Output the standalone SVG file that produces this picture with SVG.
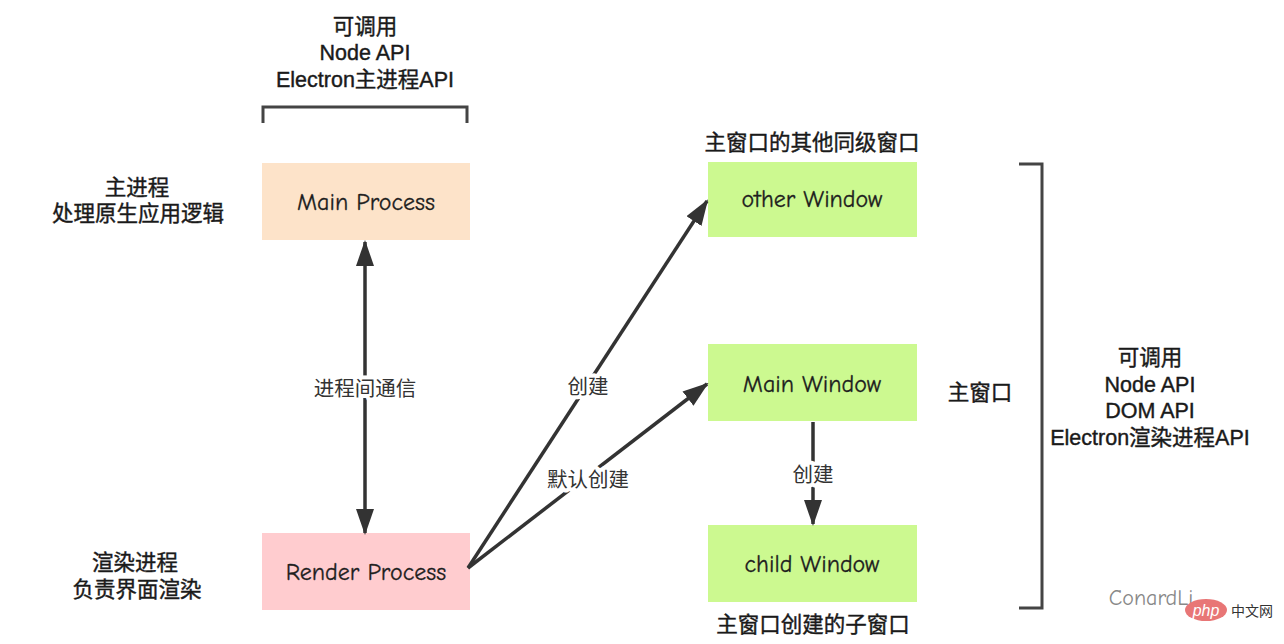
<svg xmlns="http://www.w3.org/2000/svg" width="1284" height="644" viewBox="0 0 1284 644">
<style>
  .cn { font-family: "Liberation Sans", "Noto Sans CJK SC", sans-serif; font-size: 21.5px; fill: #1a1a1a; stroke: #1a1a1a; stroke-width: 0.4px; text-anchor: middle; dominant-baseline: central; }
  .box { font-family: "Comic Neue", "Comic Sans MS", "Liberation Sans", sans-serif; font-size: 24px; fill: #1e1e1e; stroke: #1e1e1e; stroke-width: 0.3px; text-anchor: middle; dominant-baseline: central; }
  .lbl { font-family: "Liberation Sans", "Noto Sans CJK SC", sans-serif; font-size: 20.5px; fill: #333; text-anchor: middle; dominant-baseline: central; paint-order: stroke; stroke: #fff; stroke-width: 8px; stroke-linejoin: round; }
  .edge { stroke: #333; stroke-width: 3.5; fill: none; }
  .brk { stroke: #444; stroke-width: 3; fill: none; }
</style>
<defs>
  <marker id="ah" markerUnits="userSpaceOnUse" markerWidth="26" markerHeight="18" refX="24" refY="9" orient="auto-start-reverse" viewBox="0 0 26 18">
    <path d="M0,0 L26,9 L0,18 z" fill="#333"/>
  </marker>
</defs>
<rect width="1284" height="644" fill="#fff"/>

<g id="main-process">
  <rect x="262" y="163" width="208" height="77" fill="#fde3c9"/>
  <text class="box" x="366" y="202">Main Process</text>
</g>
<g id="render-process">
  <rect x="262" y="533" width="208" height="77" fill="#ffcccf"/>
  <text class="box" x="366" y="572">Render Process</text>
</g>
<g id="other-window">
  <rect x="708" y="162" width="209" height="75" fill="#ccf990"/>
  <text class="box" x="812" y="199">other Window</text>
</g>
<g id="main-window">
  <rect x="708" y="344" width="209" height="77" fill="#ccf990"/>
  <text class="box" x="812" y="384">Main Window</text>
</g>
<g id="child-window">
  <rect x="708" y="525" width="209" height="77" fill="#ccf990"/>
  <text class="box" x="812" y="564">child Window</text>
</g>

<g id="connectors">
  <line class="edge" x1="365" y1="242" x2="365" y2="533" marker-start="url(#ah)" marker-end="url(#ah)"/>
  <text class="lbl" x="365" y="388">进程间通信</text>
  <line class="edge" x1="468" y1="568" x2="707" y2="201" marker-end="url(#ah)"/>
  <text class="lbl" x="588" y="386">创建</text>
  <line class="edge" x1="468" y1="568" x2="707" y2="384" marker-end="url(#ah)"/>
  <text class="lbl" x="588" y="479">默认创建</text>
  <line class="edge" x1="813" y1="422" x2="813" y2="524" marker-end="url(#ah)"/>
  <text class="lbl" x="813" y="474">创建</text>
</g>

<g id="top-annotation">
  <text class="cn" x="365" y="27">可调用</text>
  <text class="cn" x="365" y="53">Node API</text>
  <text class="cn" x="365" y="80">Electron主进程API</text>
  <path class="brk" d="M263,123 L263,107 L467,107 L467,123"/>
</g>
<g id="main-process-label">
  <text class="cn" x="137" y="188">主进程</text>
  <text class="cn" x="138" y="214">处理原生应用逻辑</text>
</g>
<g id="render-process-label">
  <text class="cn" x="135" y="563">渲染进程</text>
  <text class="cn" x="137" y="590">负责界面渲染</text>
</g>
<g id="window-labels">
  <text class="cn" x="812" y="143">主窗口的其他同级窗口</text>
  <text class="cn" x="980" y="393">主窗口</text>
  <text class="cn" x="813" y="625">主窗口创建的子窗口</text>
</g>
<g id="right-annotation">
  <path class="brk" d="M1019,164 L1042,164 L1042,608 L1019,608"/>
  <text class="cn" x="1150" y="358">可调用</text>
  <text class="cn" x="1150" y="385">Node API</text>
  <text class="cn" x="1150" y="411">DOM API</text>
  <text class="cn" x="1150" y="438">Electron渲染进程API</text>
</g>
<g id="watermark">
  <text x="1151" y="598" font-family="Comic Neue, Liberation Sans, sans-serif" font-size="22" fill="#888" text-anchor="middle" dominant-baseline="central">ConardLi</text>
  <ellipse cx="1206" cy="610" rx="21" ry="11" fill="#e87676"/>
  <text x="1206" y="610" font-family="Liberation Sans, sans-serif" font-size="16" font-style="italic" fill="#fff" text-anchor="middle" dominant-baseline="central">php</text>
  <text x="1252" y="610" font-family="Noto Sans CJK SC, sans-serif" font-size="14" fill="#333" text-anchor="middle" dominant-baseline="central">中文网</text>
</g>
</svg>
